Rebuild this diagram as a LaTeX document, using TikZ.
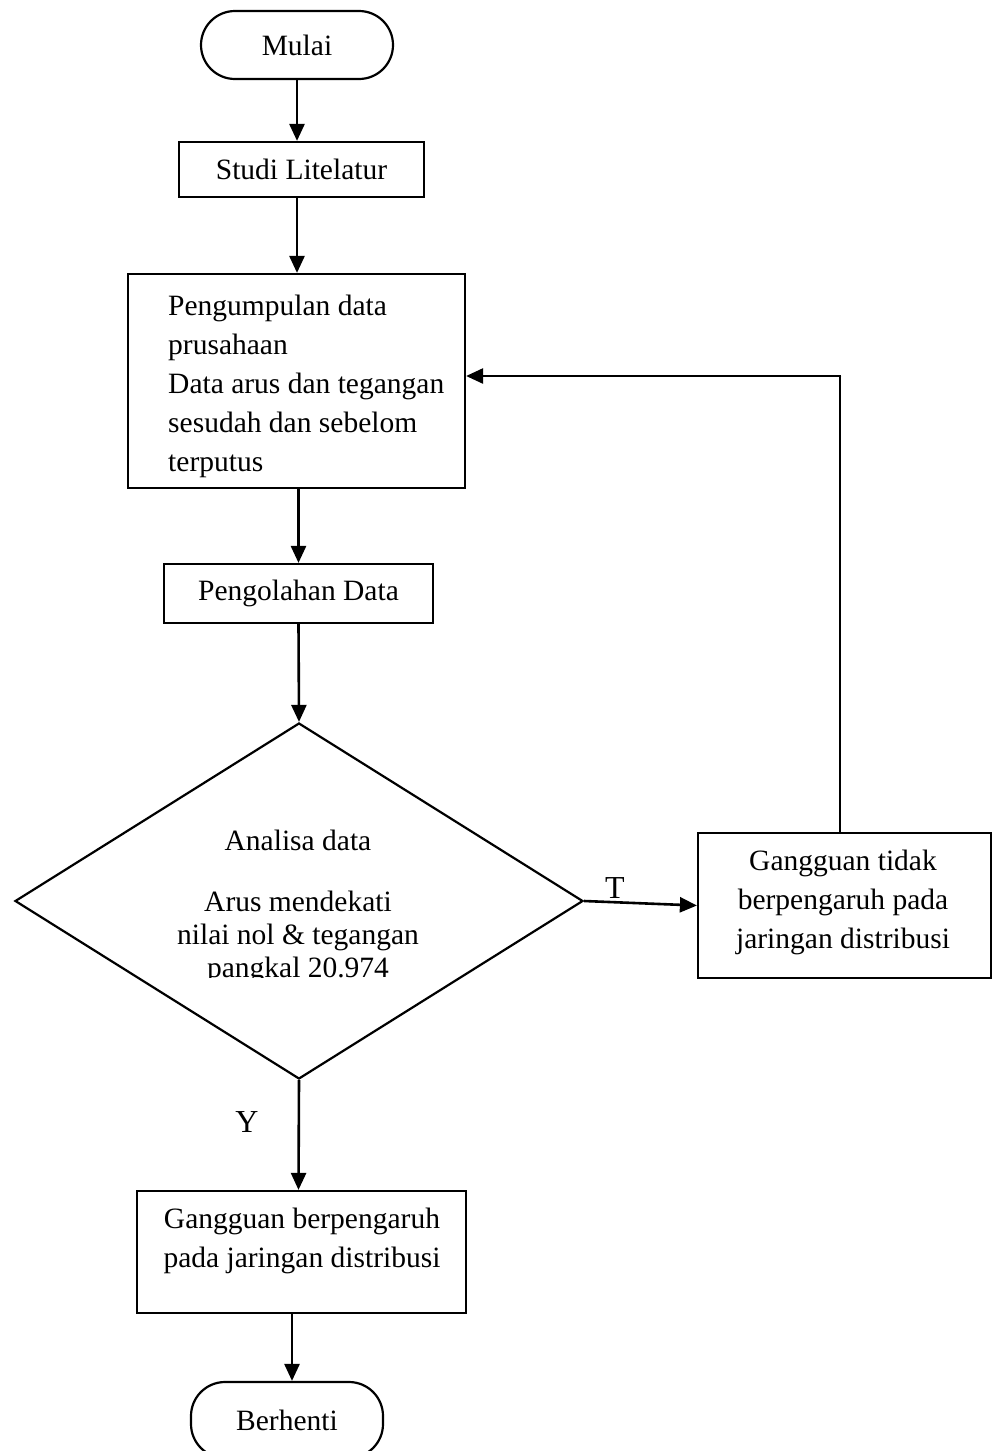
\documentclass[tikz,border=0pt]{standalone}
\usepackage{fontspec}
\setmainfont{Liberation Serif}
\usetikzlibrary{arrows.meta,shapes.geometric}

\tikzset{
  txt/.style={font=\fontsize{29.5}{39}\selectfont},
  box/.style={draw, line width=2.2pt, inner sep=0pt, txt},
  term/.style={box, rounded corners=34pt},
  decision/.style={draw, line width=2.2pt, diamond, inner sep=0pt},
  flow/.style={line width=2.6pt, -{Triangle[length=17pt,width=15pt]}},
  plain/.style={line width=2.6pt},
  lbl/.style={font=\fontsize{32}{36}\selectfont, inner sep=0pt}
}

\begin{document}
\begin{tikzpicture}[x=1pt, y=-1pt]
  \useasboundingbox (0,0) rectangle (995,1451);
  \clip (0,0) rectangle (995,1451);

  % process boxes and terminals
  \node[term, minimum width=192pt, minimum height=68pt] (mulai) at (297,45) {Mulai};
  \node[box, minimum width=245pt, minimum height=55pt] (studi) at (301.5,169.5) {Studi Litelatur};
  \node[box, minimum width=337pt, minimum height=214pt] (kumpul) at (296.5,381) {};
  \node[txt, align=left, inner sep=0pt, anchor=north west] (kumpultxt) at (168,294.5)
    {Pengumpulan data\\prusahaan\\Data arus dan tegangan\\sesudah dan sebelom\\terputus};
  \node[box, minimum width=269pt, minimum height=59pt] (olah) at (298.5,593.5) {Pengolahan Data};

  % decision
  \node[decision, minimum width=568pt, minimum height=356pt] (dec) at (299,901) {};
  \begin{scope}
    \clip (0,0) rectangle (995,977);
    \node[font=\fontsize{29.5}{33}\selectfont, align=center, inner sep=0pt, anchor=north] (dectxt) at (298,830)
      {Analisa data\\[28pt]Arus mendekati\\nilai nol \& tegangan\\pangkal 20.974};
  \end{scope}

  % outcome boxes
  \node[box, minimum width=293pt, minimum height=145pt] (rbox) at (844.5,905.5) {};
  \node[txt, align=center, inner sep=0pt, anchor=north] (rboxtxt) at (843,850)
    {Gangguan tidak\\berpengaruh pada\\jaringan distribusi};
  \node[box, minimum width=329pt, minimum height=122pt] (bbox) at (301.5,1252) {};
  \node[txt, align=center, inner sep=0pt, anchor=north] (bboxtxt) at (302,1208)
    {Gangguan berpengaruh\\pada jaringan distribusi};
  \node[term, minimum width=192pt, minimum height=76pt] (stop) at (287,1420) {Berhenti};

  % connectors
  \draw[flow] (mulai.south) -- (studi.north -| mulai.south);
  \draw[flow] (studi.south -| mulai.south) -- (kumpul.north -| mulai.south);
  \draw[flow] (kumpul.south -| olah.north) -- (olah.north);
  \draw[flow] (olah.south) -- (dec.north);
  \draw[flow] (dec.east) -- (rbox.west);
  \draw[flow] (dec.south) -- (bbox.north -| olah.south);
  \draw[flow] (bbox.south -| 292,0) -- (stop.north -| 292,0);

  % return path to data collection
  \coordinate (fbturn) at (840,376);
  \draw[plain] (rbox.north -| fbturn) -- (fbturn);
  \draw[flow] ([xshift=1.3pt]fbturn) -- (kumpul.east |- fbturn);

  % branch labels
  \node[lbl, anchor=base] (tlbl) at (615,898) {T};
  \node[lbl, anchor=base] (ylbl) at (247,1132) {Y};
\end{tikzpicture}
\end{document}
